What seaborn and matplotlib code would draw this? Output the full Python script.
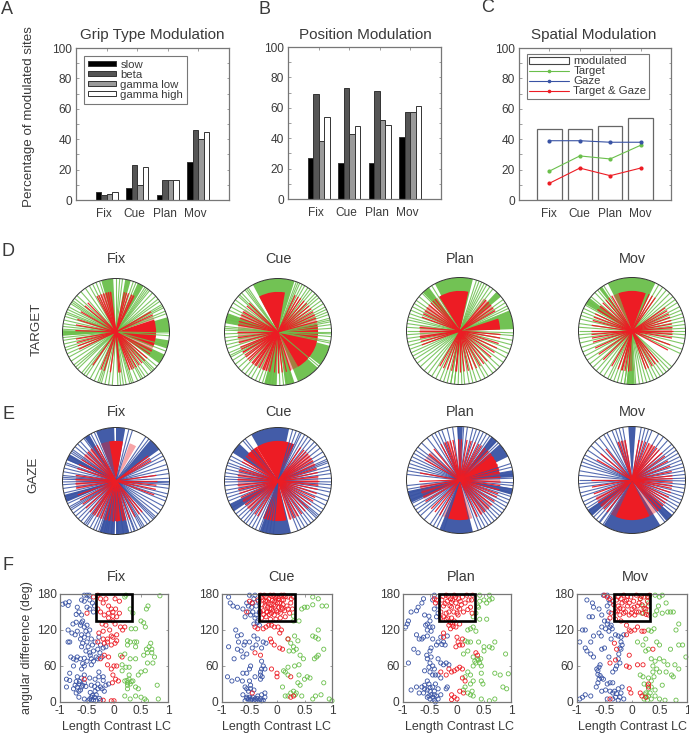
import matplotlib
matplotlib.use("Agg")
import numpy as np
import pandas as pd
import seaborn as sns
import matplotlib.pyplot as plt
from matplotlib.patches import Patch, Rectangle
from matplotlib.lines import Line2D
from matplotlib.transforms import ScaledTranslation

epochs = ["Fix", "Cue", "Plan", "Mov"]
bands = ["slow", "beta", "gamma low", "gamma high"]
grip_slow = [5, 8, 3, 25]
grip_beta = [3, 23, 13, 46]
grip_low = [4, 10, 13, 40]
grip_high = [5, 22, 13, 45]
pos_slow = [27, 24, 24, 41]
pos_beta = [69, 73, 71, 57]
pos_low = [38, 43, 52, 57]
pos_high = [54, 48, 49, 61]
spatial_mod = [47, 47, 49, 54]
spatial_target = [19, 29, 27, 36]
spatial_gaze = [39, 39, 38, 38]
spatial_both = [11, 21, 16, 21]

# Polar panels: angles in degrees; _sec = solid fans, _pale = pale fans
dfix_g = [-88,-85,-82,-79,-75,-73,-71,-66,-62,-60,-57,-53,-48,-46,-44,-40,-21,-15,-4,-1,20,23,27,29,31,35,38,42,47,51,53,55,57,68,71,83,86,90,108,112,116,120,125,131,137,141,144,146,148,152,155,158,160,163,167,171,174,177,180,183,186,189,193,197,200,204,208,213,218,221,224,230,233,236,241,246,250,252,254,258,262,266]
dfix_g_sec = [(-36,-25),(-18,-9),(0,16),(59,66),(74,80),(93,106),(178,184)]
dfix_r = [-86,-84,-70,-67,-64,-60,-55,-50,-45,-40,-33,-28,25,30,64,67,72,75,78,98,101,104,108,112,115,118,134,140,150,162,170,178,190,195,200,205,235,248,253,262]
dfix_r_sec = [(-22,18)]
dfix_r_pale = [(-30,-22),(18,24),(96,112),(62,68)]
dcue_g = [-100,-96,-92,-88,-84,-80,-74,-40,-12,-10,-5,-2,0,4,8,11,13,15,19,22,25,28,32,36,40,43,46,50,53,56,60,63,66,68,70,124,126,128,133,136,138,143,147,152,156,160,163,166,170,174,176,178,182,186,190,194,198,203,206,208,212,217,222,227,232,236,240,245,249,253,257,261]
dcue_g_sec = [(-68,-42),(-38,-15),(72,118),(-82,-72),(-105,-92),(160,170)]
dcue_r = [-110,-118,-123,-128,-135,-142,-150,-158,-165,-172,-180,-190,-195,150,155,160,140,135,65,60,56,50,45,40,35,30,25,15,20,-72,-78,-84,-90,-95,-102,-107,-112,205,210,215,222,230,235]
dcue_r_sec = [(-60,12),(80,118)]
dcue_r_pale = [(12,28),(162,198),(-122,-102),(-72,-60),(145,160)]
dplan_g = [-100,-96,-92,-88,-85,-80,-76,-72,-67,-62,-58,-52,-47,-42,-36,-30,-25,-20,-15,-10,-5,-2,22,25,28,32,36,52,56,60,63,66,69,72,122,126,130,135,140,145,149,153,157,161,165,168,172,176,180,184,188,192,196,200,204,208,212,217,222,228,233,238,243,248,252,256,260,264]
dplan_g_sec = [(2,22),(40,47),(76,118),(126,134)]
dplan_r = [-95,-90,-84,-78,-72,-66,-60,-54,-48,-40,-32,-25,-18,-10,-5,30,35,40,45,50,128,132,136,140,145,150,155,160,175,180,188,190,195,200,240,246,252,258,264]
dplan_r_sec = [(2,18),(78,122)]
dplan_r_pale = [(30,54),(172,190),(140,155),(124,130)]
dmov_g = [-98,-95,-90,-86,-82,-78,-74,-70,-66,-62,-58,-54,-50,-46,-42,-25,-20,-14,-8,-4,0,3,7,11,15,19,23,27,32,36,40,45,50,55,60,122,126,130,134,140,146,151,155,159,163,167,172,176,180,184,188,193,198,203,208,213,218,223,228,233,238,243,246,250,254,258,262,266]
dmov_g_sec = [(64,117),(-96,-87),(142,150),(124,128)]
dmov_r = [-105,-100,-95,-70,-66,-60,-55,-50,-28,-20,-10,-5,0,5,10,15,20,25,30,35,55,60,65,120,125,130,136,142,148,155,160,165,172,180,185,190,196,205,215,225,240,250,256]
dmov_r_sec = [(70,110)]
dmov_r_pale = [(110,118),(-4,6),(140,150),(-94,-88)]

efix_b = [-70,-66,-62,-60,-58,-54,-50,-46,-44,-42,-38,-33,-28,-22,-18,-14,-8,-4,-2,0,3,8,13,18,24,28,32,52,56,72,76,114,118,122,127,132,136,140,144,146,148,152,156,160,162,166,170,174,176,178,181,184,188,193,197,201,205,209,211,213,217,221,225,229,233,235,237,241,245,248,251,254,257,259,261,265,268,272,278,284,287,291]
efix_b_sec = [(80,90),(92,112),(36,50),(120,126),(150,157),(-108,-92),(-90,-76),(195,203)]
efix_r = [-125,-118,-112,-105,-100,-94,-88,-80,-76,-70,-62,-55,-50,-20,-12,-6,0,8,30,34,38,118,122,128,134,140,148,156,162,172,178,184,190,200,208,215,222,230,238]
efix_r_sec = [(80,100),(-96,-84)]
efix_r_pale = [(100,112),(-118,-76),(172,192),(60,70),(125,145)]
ecue_b = [-68,-64,-60,-56,-52,-48,-44,-42,-40,-36,-32,-27,-22,-17,-12,-8,-4,-1,3,8,12,16,20,22,24,28,33,38,43,47,52,56,60,64,66,70,74,128,131,152,156,160,163,167,171,175,178,181,185,190,194,198,202,206,210,214,218,222,226,230,233,237,241,245,249,253,257,261,265]
ecue_b_sec = [(78,120),(-110,-76),(136,148),(206,214)]
ecue_r = [-72,-66,-60,-54,-48,-42,-36,-30,-24,-18,-12,-6,0,6,12,18,24,30,34,38,42,46,50,56,130,136,142,148,152,160,165,172,178,186,192,198,204,210,216,222,228,235,240]
ecue_r_sec = [(66,122),(-112,-78),(122,140)]
ecue_r_pale = [(160,196),(15,44),(-8,8),(-74,-60),(204,228)]
eplan_b = [-70,-66,-62,-58,-54,-50,-46,-42,-38,-34,-30,-26,-22,-18,-14,-10,-6,-3,2,6,10,14,18,44,48,52,56,60,64,68,72,76,82,86,92,98,104,110,114,118,122,128,136,142,146,150,154,158,162,166,170,174,186,190,194,198,202,206,210,214,218,222,228,236,240,244,248,252]
eplan_b_sec = [(-112,-76),(26,42),(46,54),(87,93),(192,205),(3,10),(-16,-9)]
eplan_r = [-65,-58,-52,-45,-38,-32,-25,-20,-14,-8,-3,4,10,16,22,28,34,40,46,52,58,62,68,74,80,88,92,100,104,108,112,118,130,140,150,170,182,190,198,205,212,225,232,240]
eplan_r_sec = [(-108,-78),(10,38)]
eplan_r_pale = [(-116,-108),(-78,-72),(-60,-38),(186,208),(-2,10),(38,52),(105,115),(135,148)]
emov_b = [-52,-47,-42,-38,-34,-30,-26,-22,-18,-14,-9,-5,-1,2,6,10,14,18,22,26,30,34,38,42,48,54,60,68,72,76,80,100,104,108,112,118,122,128,134,140,146,152,156,160,164,170,175,180,184,188,194,198,204,208,212,216,220,224,228,233,237,232]
emov_b_sec = [(-122,-58),(86,94),(-50,-41),(214,222)]
emov_r = [-50,-45,-40,-35,-30,-25,-18,-12,-8,-3,2,6,12,20,28,36,42,48,52,56,60,65,70,75,80,100,105,110,130,140,150,180,190,200,208,214,220,226,232]
emov_r_sec = [(-114,-64)]
emov_r_pale = [(-64,-38),(205,226),(-122,-114),(56,66),(100,112)]

# Scatter panels: (length contrast, angular difference)
ffix_b = [(-.95,163),(-.9,165),(-.85,161),(-.83,167),(-.68,158),(-.65,150),(-.7,146),(-.6,145),(-.6,170),(-.55,168),(-.5,158),(-.45,155),(-.45,170),(-.5,178),(-.55,178),(-.46,178),(-.4,165),(-.36,160),(-.38,150),(-.76,130),(-.7,133),(-.6,132),(-.55,125),(-.5,128),(-.45,120),(-.85,120),(-.78,115),(-.72,112),(-.68,118),(-.6,112),(-.62,105),(-.55,108),(-.5,100),(-.48,92),(-.42,105),(-.4,95),(-.35,100),(-.28,108),(-.25,95),(-.2,90),(-.3,88),(-.85,100),(-.82,100),(-.6,92),(-.52,85),(-.45,82),(-.8,75),(-.75,72),(-.68,75),(-.62,72),(-.55,73),(-.42,72),(-.38,68),(-.33,75),(-.42,62),(-.55,60),(-.6,55),(-.75,60),(-.82,48),(-.88,38),(-.82,36),(-.68,42),(-.6,40),(-.55,45),(-.45,40),(-.35,38),(-.55,32),(-.65,30),(-.72,28),(-.75,22),(-.68,25),(-.6,25),(-.7,15),(-.65,18),(-.88,25),(-.65,8),(-.55,5),(-.45,5),(-.42,8),(-.38,3),(-.4,11),(-.48,2),(-.3,30),(-.25,25),(-.3,22),(-.22,22),(-.35,18),(-.2,36),(-.15,28),(-.1,30),(-.28,50),(-.2,42),(-.33,12),(-.27,6),(-.25,3),(-.58,135),(-.62,128),(-.52,118),(-.48,112),(-.58,98),(-.38,85),(-.44,78),(-.5,68),(-.58,64),(-.7,70),(-.64,34),(-.58,28),(-.52,26),(-.7,34),(-.62,20),(-.42,28),(-.36,26),(-.44,16),(-.42,3),(-.36,8),(-.34,2),(-.28,42),(-.18,18),(-.15,92),(-.22,75),(-.26,82),(-.3,72)]
ffix_r = [(-.3,178),(-.25,172),(-.2,165),(-.15,172),(-.1,160),(-.05,155),(.02,172),(.1,168),(-.3,155),(-.25,150),(-.18,145),(-.1,140),(-.02,150),(.05,142),(.1,148),(.02,130),(.12,125),(.2,125),(-.15,128),(-.2,118),(-.08,120),(-.05,110),(.05,112),(-.3,100),(-.2,105),(-.12,100),(-.05,95),(.02,98),(.05,102),(-.18,78),(-.25,72),(-.1,75),(-.12,62),(-.05,55),(0,60),(.05,60),(-.02,45),(.03,38),(-.03,32),(.08,35),(-.55,38),(-.05,2),(0,2),(-.2,3),(.15,75),(-.38,175),(-.5,148),(-.02,143),(.03,155),(-.1,148),(-.22,130),(-.28,115),(-.12,105),(-.02,108),(-.02,135),(.16,120),(-.18,98)]
ffix_g = [(.2,175),(.22,178),(.85,177),(.6,155),(.63,160),(.3,155),(.35,148),(.5,135),(.55,132),(.58,125),(.32,122),(.4,122),(.25,102),(.3,100),(.38,100),(.42,100),(.25,95),(.4,92),(.6,88),(.65,92),(.68,98),(.7,88),(.62,82),(.7,82),(.55,78),(.75,75),(.2,80),(.12,78),(.3,72),(.4,72),(.62,65),(.72,65),(.15,62),(.22,58),(.28,58),(.15,52),(.5,50),(.58,52),(.45,45),(.28,45),(.2,35),(.25,32),(.3,30),(.35,35),(.4,25),(.45,22),(.25,28),(.8,28),(.2,10),(.3,5),(.4,10),(.5,8),(.57,5),(.6,2),(.82,5),(.25,22),(.28,38),(.24,36),(.32,34)]

fcue_b = [(-.88,175),(-.85,165),(-.8,160),(-.72,158),(-.62,155),(-.55,165),(-.52,150),(-.58,142),(-.48,145),(-.42,172),(-.5,178),(-.4,178),(-.38,160),(-.32,150),(-.38,145),(-.42,130),(-.35,135),(-.32,128),(-.75,120),(-.72,110),(-.65,112),(-.7,100),(-.6,95),(-.58,100),(-.5,100),(-.42,110),(-.38,95),(-.35,105),(-.25,100),(-.28,90),(-.2,98),(-.88,92),(-.78,72),(-.72,88),(-.65,85),(-.62,75),(-.55,80),(-.45,90),(-.28,68),(-.25,60),(-.22,55),(-.3,50),(-.48,60),(-.5,55),(-.55,48),(-.62,48),(-.9,42),(-.82,35),(-.72,38),(-.63,35),(-.5,35),(-.4,42),(-.3,38),(-.3,45),(-.58,25),(-.55,22),(-.48,22),(-.42,20),(-.62,12),(-.55,8),(-.52,5),(-.48,3),(-.44,8),(-.38,2),(-.3,5),(-.25,3),(-.22,8),(-.28,12),(-.4,5),(-.35,10),(-.58,2),(-.22,15),(-.46,158),(-.44,150),(-.4,140),(-.36,132),(-.45,165),(-.34,168),(-.52,160),(-.55,6),(-.5,8),(-.46,5),(-.42,3),(-.36,6),(-.33,3),(-.28,2),(-.52,18),(-.48,28),(-.28,55),(-.27,42)]
fcue_r = [(-.3,178),(-.25,170),(-.22,160),(-.2,175),(-.18,150),(-.15,165),(-.12,178),(-.1,155),(-.08,170),(-.05,145),(-.03,160),(0,175),(.02,150),(.05,165),(.08,178),(.1,155),(.12,170),(.15,142),(.18,160),(.2,175),(.25,165),(.28,155),(.3,175),(-.28,140),(-.25,152),(-.12,138),(-.02,138),(.06,140),(-.15,172),(-.06,178),(-.18,168),(.03,172),(.08,158),(-.1,148),(-.2,142),(-.3,150),(-.5,168),(-.35,170),(-.55,150),(-.45,165),(-.4,125),(-.35,122),(-.25,122),(-.2,125),(-.15,128),(-.1,128),(-.05,125),(.02,125),(.08,120),(.05,115),(-.12,105),(-.1,100),(-.05,95),(.05,90),(.1,88),(-.4,82),(-.3,78),(-.1,55),(0,48),(0,42),(.25,42),(.3,10),(.25,8),(-.45,15),(.2,105),(-.27,162),(-.24,146),(-.21,168),(-.17,158),(-.14,146),(-.11,163),(-.09,176),(-.07,152),(-.04,168),(-.01,152),(.01,165),(.03,158),(.06,148),(.09,170),(.11,162),(.14,152),(.16,176),(.2,155),(.23,148),(.26,172),(-.28,174),(-.23,178),(-.13,156),(-.03,172),(.04,176),(.13,178),(-.19,150),(-.06,162)]
fcue_g = [(.65,175),(.75,172),(.65,162),(.82,160),(.9,160),(.45,155),(.5,158),(.55,158),(.3,143),(.3,135),(.4,135),(.75,120),(.65,110),(.7,108),(.75,105),(.32,110),(.38,102),(.2,105),(.25,98),(.3,92),(.35,88),(.3,85),(.22,85),(.85,88),(.42,78),(.48,72),(.68,72),(.72,75),(.75,78),(.4,62),(.32,60),(.2,58),(.15,50),(.12,52),(.2,45),(.4,45),(.55,42),(.5,38),(.6,40),(.38,32),(.42,28),(.85,32),(.1,25),(.3,18),(.35,15),(.25,15),(.33,12),(.2,10),(.15,10),(.45,10),(.65,5),(.7,10),(.8,12),(.95,5),(1,2)]

fplan_b = [(-.95,125),(-.92,130),(-.9,135),(-.85,150),(-.75,152),(-.72,158),(-.65,165),(-.62,172),(-.6,145),(-.52,143),(-.5,135),(-.58,128),(-.5,125),(-.55,120),(-.45,125),(-.42,178),(-.45,170),(-.35,160),(-.42,155),(-.35,148),(-.38,142),(-.75,112),(-.7,105),(-.65,105),(-.62,108),(-.55,110),(-.45,105),(-.35,100),(-.3,108),(-.25,100),(-.22,95),(-.18,110),(-.8,88),(-.72,82),(-.5,85),(-.48,75),(-.55,72),(-.5,65),(-.45,60),(-.42,55),(-.9,65),(-.6,52),(-.35,72),(-.3,65),(-.25,62),(-.2,65),(-.15,62),(-.45,45),(-.4,45),(-.35,45),(-.3,40),(-.55,35),(-.6,28),(-.65,25),(-.7,15),(-.85,20),(-.75,25),(-.55,20),(-.5,18),(-.45,25),(-.42,18),(-.35,22),(-.2,22),(-.18,25),(-.3,12),(-.45,8),(-.42,3),(-.5,5),(-.55,8),(-.48,12),(-.35,5),(-.55,130),(-.48,118),(-.38,95),(-.28,96),(-.48,90),(-.56,78),(-.52,58),(-.5,50),(-.52,30),(-.6,22),(-.4,30),(-.42,12),(-.5,24),(-.38,10),(-.4,0),(-.52,10),(-.62,15)]
fplan_r = [(-.28,170),(-.25,160),(-.2,178),(-.18,168),(-.15,150),(-.12,172),(-.1,158),(-.05,178),(-.02,165),(0,148),(.03,172),(.05,155),(.08,162),(.1,175),(.12,150),(.15,165),(.18,178),(.22,170),(.25,158),(.28,148),(-.3,150),(-.25,142),(-.2,138),(-.1,140),(-.05,135),(.02,145),(-.15,128),(-.12,122),(-.08,130),(-.02,125),(.05,130),(-.4,165),(-.38,170),(-.42,172),(-.3,140),(-.25,115),(-.25,108),(0,108),(.02,100),(.05,95),(.1,95),(.1,105),(-.02,92),(.35,82),(.38,78),(-.15,55),(-.05,52),(0,55),(.05,58),(.1,55),(-.2,45),(-.1,50),(.1,40),(.15,35),(-.3,50),(-.1,12),(-.05,8),(-.1,4),(0,5),(.12,15),(.05,18),(-.26,176),(-.22,164),(-.16,176),(-.13,160),(-.08,170),(-.06,150),(-.03,174),(.01,158),(.06,168),(-.2,148),(-.1,166),(-.17,140),(-.12,132),(-.07,126),(.27,170),(.29,178),(.2,154)]
fplan_g = [(.42,178),(.6,178),(.65,172),(.5,170),(.55,165),(.42,168),(.38,160),(.4,158),(.6,170),(.3,142),(.35,148),(.42,138),(.55,138),(.2,120),(.25,122),(.3,125),(.35,118),(.15,102),(.2,100),(.25,100),(.4,100),(.5,92),(.6,92),(.65,90),(.7,100),(.5,85),(.9,80),(.12,80),(.2,85),(.3,75),(.4,70),(.42,65),(.45,60),(.35,65),(.3,60),(.25,45),(.2,50),(.15,42),(.45,48),(.7,48),(.8,45),(.95,47),(.3,35),(.25,30),(.45,35),(.48,30),(.85,25),(.92,22),(.15,25),(.12,20),(.2,15),(.25,12),(.3,10),(.45,5),(.6,2),(.7,5),(.28,18),(.38,72),(.33,68),(.44,72)]

fmov_b = [(-.95,5),(-.9,8),(-.85,12),(-.75,10),(-.95,100),(-.9,120),(-.85,120),(-.78,142),(-.72,142),(-.82,170),(-.72,165),(-.7,158),(-.6,155),(-.55,145),(-.52,178),(-.45,178),(-.42,170),(-.4,165),(-.45,160),(-.42,150),(-.5,135),(-.55,125),(-.45,130),(-.48,122),(-.4,125),(-.42,118),(-.6,115),(-.7,110),(-.75,100),(-.85,90),(-.82,85),(-.75,80),(-.7,75),(-.55,88),(-.5,90),(-.38,105),(-.3,112),(-.25,110),(-.2,108),(-.15,112),(-.18,95),(-.2,88),(-.25,72),(-.22,65),(-.28,60),(-.3,55),(-.35,50),(-.42,75),(-.58,62),(-.6,58),(-.62,52),(-.55,40),(-.52,38),(-.6,38),(-.62,32),(-.65,25),(-.4,32),(-.35,32),(-.55,18),(-.48,20),(-.4,18),(-.35,15),(-.25,22),(-.2,15),(-.3,8),(-.45,5),(-.35,5),(-.25,3),(-.15,5),(-.18,25),(-.44,135),(-.38,128),(-.36,122),(-.56,110),(-.2,100),(-.22,90),(-.24,80),(-.62,46),(-.58,44),(-.64,55),(-.32,18),(-.28,14),(-.22,8),(-.45,30)]
fmov_r = [(-.5,178),(-.45,175),(-.4,172),(-.35,168),(-.38,148),(-.4,140),(-.3,150),(-.25,160),(-.25,175),(-.22,145),(-.18,165),(-.15,178),(-.12,150),(-.1,170),(-.08,160),(-.05,145),(-.02,175),(0,155),(.03,168),(.05,145),(.08,178),(.1,160),(.12,150),(.15,172),(.18,162),(.2,148),(.22,175),(.25,155),(.28,168),(.3,145),(.32,178),(.3,160),(-.3,138),(-.2,135),(-.1,128),(-.05,120),(-.02,118),(.05,120),(.1,125),(.18,118),(.22,118),(-.1,112),(-.32,98),(-.28,88),(-.05,78),(-.3,70),(-.4,65),(-.1,60),(-.05,58),(.1,62),(.2,62),(-.05,22),(-.02,15),(.15,15),(.18,10),(-.4,5),(.25,8),(.38,88),(.3,25),(.3,30),(-.28,170),(-.26,152),(-.2,172),(-.16,155),(-.13,168),(-.08,176),(-.05,165),(-.01,148),(.04,158),(.08,150),(.13,165),(.17,176),(.22,156),(.26,146),(.29,176),(-.22,156),(-.15,148),(-.33,162)]
fmov_g = [(.42,178),(.5,175),(.55,178),(.62,165),(.48,160),(.45,152),(.42,145),(.55,148),(.65,150),(.7,150),(.75,150),(.85,130),(.8,120),(.4,122),(.35,118),(.3,120),(.25,105),(.2,95),(.1,100),(.45,100),(.5,95),(.85,95),(.92,95),(.98,75),(.7,88),(.3,88),(.25,85),(.35,72),(.42,68),(.5,72),(.58,68),(.65,62),(.78,62),(.85,55),(.45,55),(.5,50),(.62,50),(.72,45),(.75,42),(.15,45),(.2,42),(.3,40),(.35,35),(.4,42),(.22,30),(.3,22),(.35,25),(.42,20),(.55,28),(.25,15),(.3,10),(.22,5),(.28,3),(.35,5),(.42,10),(.5,5),(.6,3),(.8,3),(.15,172),(.25,150),(.3,165),(.28,175),(.2,160),(.18,148),(.38,60),(.28,28),(.26,8),(.33,15),(.24,12),(.38,50)]

sns.set_theme(style="ticks")
plt.rcParams["font.family"] = ["Liberation Sans", "DejaVu Sans"]
TXT = "#3a3a3a"
SP = "#777777"
W, H = 689, 735
fig = plt.figure(figsize=(W / 100, H / 100), dpi=100, facecolor="white")


def axpx(x0, y0, x1, y1, **kw):
    return fig.add_axes([x0 / W, 1 - y1 / H, (x1 - x0) / W, (y1 - y0) / H], **kw)


def label(x, y, s, size=10, rot=0):
    fig.text(x / W, 1 - y / H, s, ha="center", va="center", fontsize=size, color=TXT, rotation=rot)


def style_bar(ax, shift):
    ax.set_xlim(-1, 4)
    ax.set_ylim(0, 100)
    ax.set_yticks(range(0, 101, 20))
    ax.set_yticks(range(10, 100, 20), minor=True)
    ax.set_xticks(range(4))
    ax.set_xticklabels(epochs)
    ax.set_xlabel("")
    ax.set_ylabel("")
    ax.tick_params(axis="both", which="both", direction="in", length=1.8, width=0.5, color=SP, top=True, right=True, labelsize=8.6, labelcolor=TXT, pad=6)
    ax.tick_params(axis="y", pad=3)
    for s in ax.spines.values():
        s.set_visible(True)
        s.set_color(SP)
        s.set_linewidth(0.9)
    for t in ax.get_xticklabels():
        t.set_transform(t.get_transform() + ScaledTranslation(shift / 72, 0, fig.dpi_scale_trans))


band_colors = ["#000000", "#555555", "#9a9a9a", "#ffffff"]


def grouped(ax, arrays):
    df = pd.DataFrame({
        "epoch": epochs * 4,
        "band": [b for b in bands for _ in epochs],
        "pct": sum(arrays, []),
    })
    sns.barplot(data=df, x="epoch", y="pct", hue="band", order=epochs, hue_order=bands,
                palette=band_colors, width=0.72, saturation=1, edgecolor="#333333",
                linewidth=0.7, legend=False, ax=ax, errorbar=None)


axA = axpx(76, 48, 229, 200)
grouped(axA, [grip_slow, grip_beta, grip_low, grip_high])
style_bar(axA, -2.2)
handles = [Patch(facecolor=c, edgecolor="#333333", linewidth=0.7) for c in band_colors]
leg = axA.legend(handles, bands, loc="upper left", bbox_to_anchor=(0.055, 0.95), borderaxespad=0,
                 fontsize=8.2, frameon=True, fancybox=False, framealpha=1, edgecolor=SP,
                 handlelength=2.4, handleheight=0.35, handletextpad=0.4, labelspacing=0.0,
                 borderpad=0.35, labelcolor=TXT)
leg.get_frame().set_linewidth(0.8)

axB = axpx(288, 47, 441, 199)
grouped(axB, [pos_slow, pos_beta, pos_low, pos_high])
style_bar(axB, -2.2)

axC = axpx(519, 48, 671, 200)
sns.barplot(x=epochs, y=spatial_mod, order=epochs, color="white", width=0.8, saturation=1,
            edgecolor="#666666", linewidth=0.9, ax=axC, errorbar=None)
line_sets = [("Target", spatial_target, "#6abf4b"), ("Gaze", spatial_gaze, "#3953a4"), ("Target & Gaze", spatial_both, "#ed1c24")]
for name, vals, col in line_sets:
    sns.lineplot(x=list(range(4)), y=vals, color=col, marker="o", markersize=3, markeredgewidth=0,
                 linewidth=0.8, ax=axC, errorbar=None)
style_bar(axC, 0)
h = [Patch(facecolor="white", edgecolor="#444444", linewidth=0.8)] + [
    Line2D([0], [0], color=c, marker="o", markersize=2.6, markeredgewidth=0, linewidth=0.8) for _, _, c in line_sets]
leg = axC.legend(h, ["modulated"] + [n for n, _, _ in line_sets], loc="upper left",
                 bbox_to_anchor=(0.05, 0.96), borderaxespad=0, fontsize=8.2, frameon=True,
                 fancybox=False, framealpha=1, edgecolor=SP, handlelength=3.5, handleheight=0.55,
                 handletextpad=0.4, labelspacing=0.0, borderpad=0.2, labelcolor=TXT)
leg.get_frame().set_linewidth(0.8)

label(7, 10, "A", 13)
label(264, 10, "B", 13)
label(488, 8, "C", 13)
label(8, 252, "D", 13)
label(8, 415, "E", 13)
label(8, 566, "F", 13)
label(152, 35, "Grip Type Modulation", 11)
label(365, 35, "Position Modulation", 11)
label(594, 35, "Spatial Modulation", 11)
label(29, 117, "Percentage of modulated sites", 9.6, 90)
label(37, 329, "TARGET", 9.6, 90)
label(33, 475, "GAZE", 9.6, 90)
label(27, 648, "angular difference (deg)", 9, 90)


def wheel(cx, cy, lines, sectors, col, rlines, rsectors, rpale, title, ty):
    R = 53.5
    ax = axpx(cx - R, cy - R, cx + R, cy + R, projection="polar")
    ax.vlines(np.radians(lines), 0, 1, color=col, linewidth=0.8, alpha=0.85)
    for a, b in sectors:
        ax.bar(np.radians((a + b) / 2), 1, width=np.radians(b - a), color=col, linewidth=0, alpha=0.95)
    for a, b in rpale:
        ax.bar(np.radians((a + b) / 2), 0.75, width=np.radians(b - a), color="#ed1c24", linewidth=0, alpha=0.4)
    ax.vlines(np.radians(rlines), 0, 0.76, color="#ed1c24", linewidth=0.9, alpha=0.95)
    for a, b in rsectors:
        ax.bar(np.radians((a + b) / 2), 0.75, width=np.radians(b - a), color="#ed1c24", linewidth=0)
    ax.set_ylim(0, 1)
    ax.set_xticks([])
    ax.set_yticks([])
    ax.grid(False)
    ax.spines["polar"].set_color("#333333")
    ax.spines["polar"].set_linewidth(0.7)
    label(cx, ty, title, 10.4)


GREEN, BLUE = "#6abf4b", "#3953a4"
wheel(116, 332, dfix_g, dfix_g_sec, GREEN, dfix_r, dfix_r_sec, dfix_r_pale, "Fix", 259)
wheel(278, 332, dcue_g, dcue_g_sec, GREEN, dcue_r, dcue_r_sec, dcue_r_pale, "Cue", 259)
wheel(460, 331, dplan_g, dplan_g_sec, GREEN, dplan_r, dplan_r_sec, dplan_r_pale, "Plan", 259)
wheel(632, 331, dmov_g, dmov_g_sec, GREEN, dmov_r, dmov_r_sec, dmov_r_pale, "Mov", 259)
wheel(116, 481, efix_b, efix_b_sec, BLUE, efix_r, efix_r_sec, efix_r_pale, "Fix", 412)
wheel(278, 481, ecue_b, ecue_b_sec, BLUE, ecue_r, ecue_r_sec, ecue_r_pale, "Cue", 412)
wheel(460, 480, eplan_b, eplan_b_sec, BLUE, eplan_r, eplan_r_sec, eplan_r_pale, "Plan", 412)
wheel(632, 480, emov_b, emov_b_sec, BLUE, emov_r, emov_r_sec, emov_r_pale, "Mov", 412)


def scatter(x0, x1, blue, red, green, title, tx, lx):
    ax = axpx(x0, 594, x1, 702)
    for pts, col in ((blue, BLUE), (green, GREEN), (red, "#ed1c24")):
        d = pd.DataFrame(pts, columns=["lc", "ang"])
        sns.scatterplot(data=d, x="lc", y="ang", s=9, facecolors="none", edgecolor=col,
                        linewidth=0.6, ax=ax, legend=False, clip_on=False)
    ax.add_patch(Rectangle((-1 / 3, 135), 2 / 3, 45, fill=False, edgecolor="black", linewidth=1.9, zorder=5, clip_on=False))
    ax.set_xlim(-1, 1)
    ax.set_ylim(0, 180)
    ax.set_xticks([-1, -0.5, 0, 0.5, 1])
    ax.set_xticklabels(["-1", "-0.5", "0", "0.5", "1"])
    ax.set_yticks([0, 60, 120, 180])
    ax.set_xlabel("")
    ax.set_ylabel("")
    ax.tick_params(direction="in", length=1.8, width=0.5, color=SP, labelsize=8.6, labelcolor=TXT, pad=2.5, top=True, right=True)
    for s in ax.spines.values():
        s.set_visible(True)
        s.set_color(SP)
        s.set_linewidth(0.9)
    label(tx, 577, title, 10.4)
    label(lx, 727, "Length Contrast LC", 9)


scatter(60, 168, ffix_b, ffix_r, ffix_g, "Fix", 116, 116)
scatter(222, 332, fcue_b, fcue_r, fcue_g, "Cue", 281, 276)
scatter(403, 511, fplan_b, fplan_r, fplan_g, "Plan", 461, 459)
scatter(577, 687, fmov_b, fmov_r, fmov_g, "Mov", 635, 633)

fig.savefig("out.png", dpi=100, facecolor="white")
